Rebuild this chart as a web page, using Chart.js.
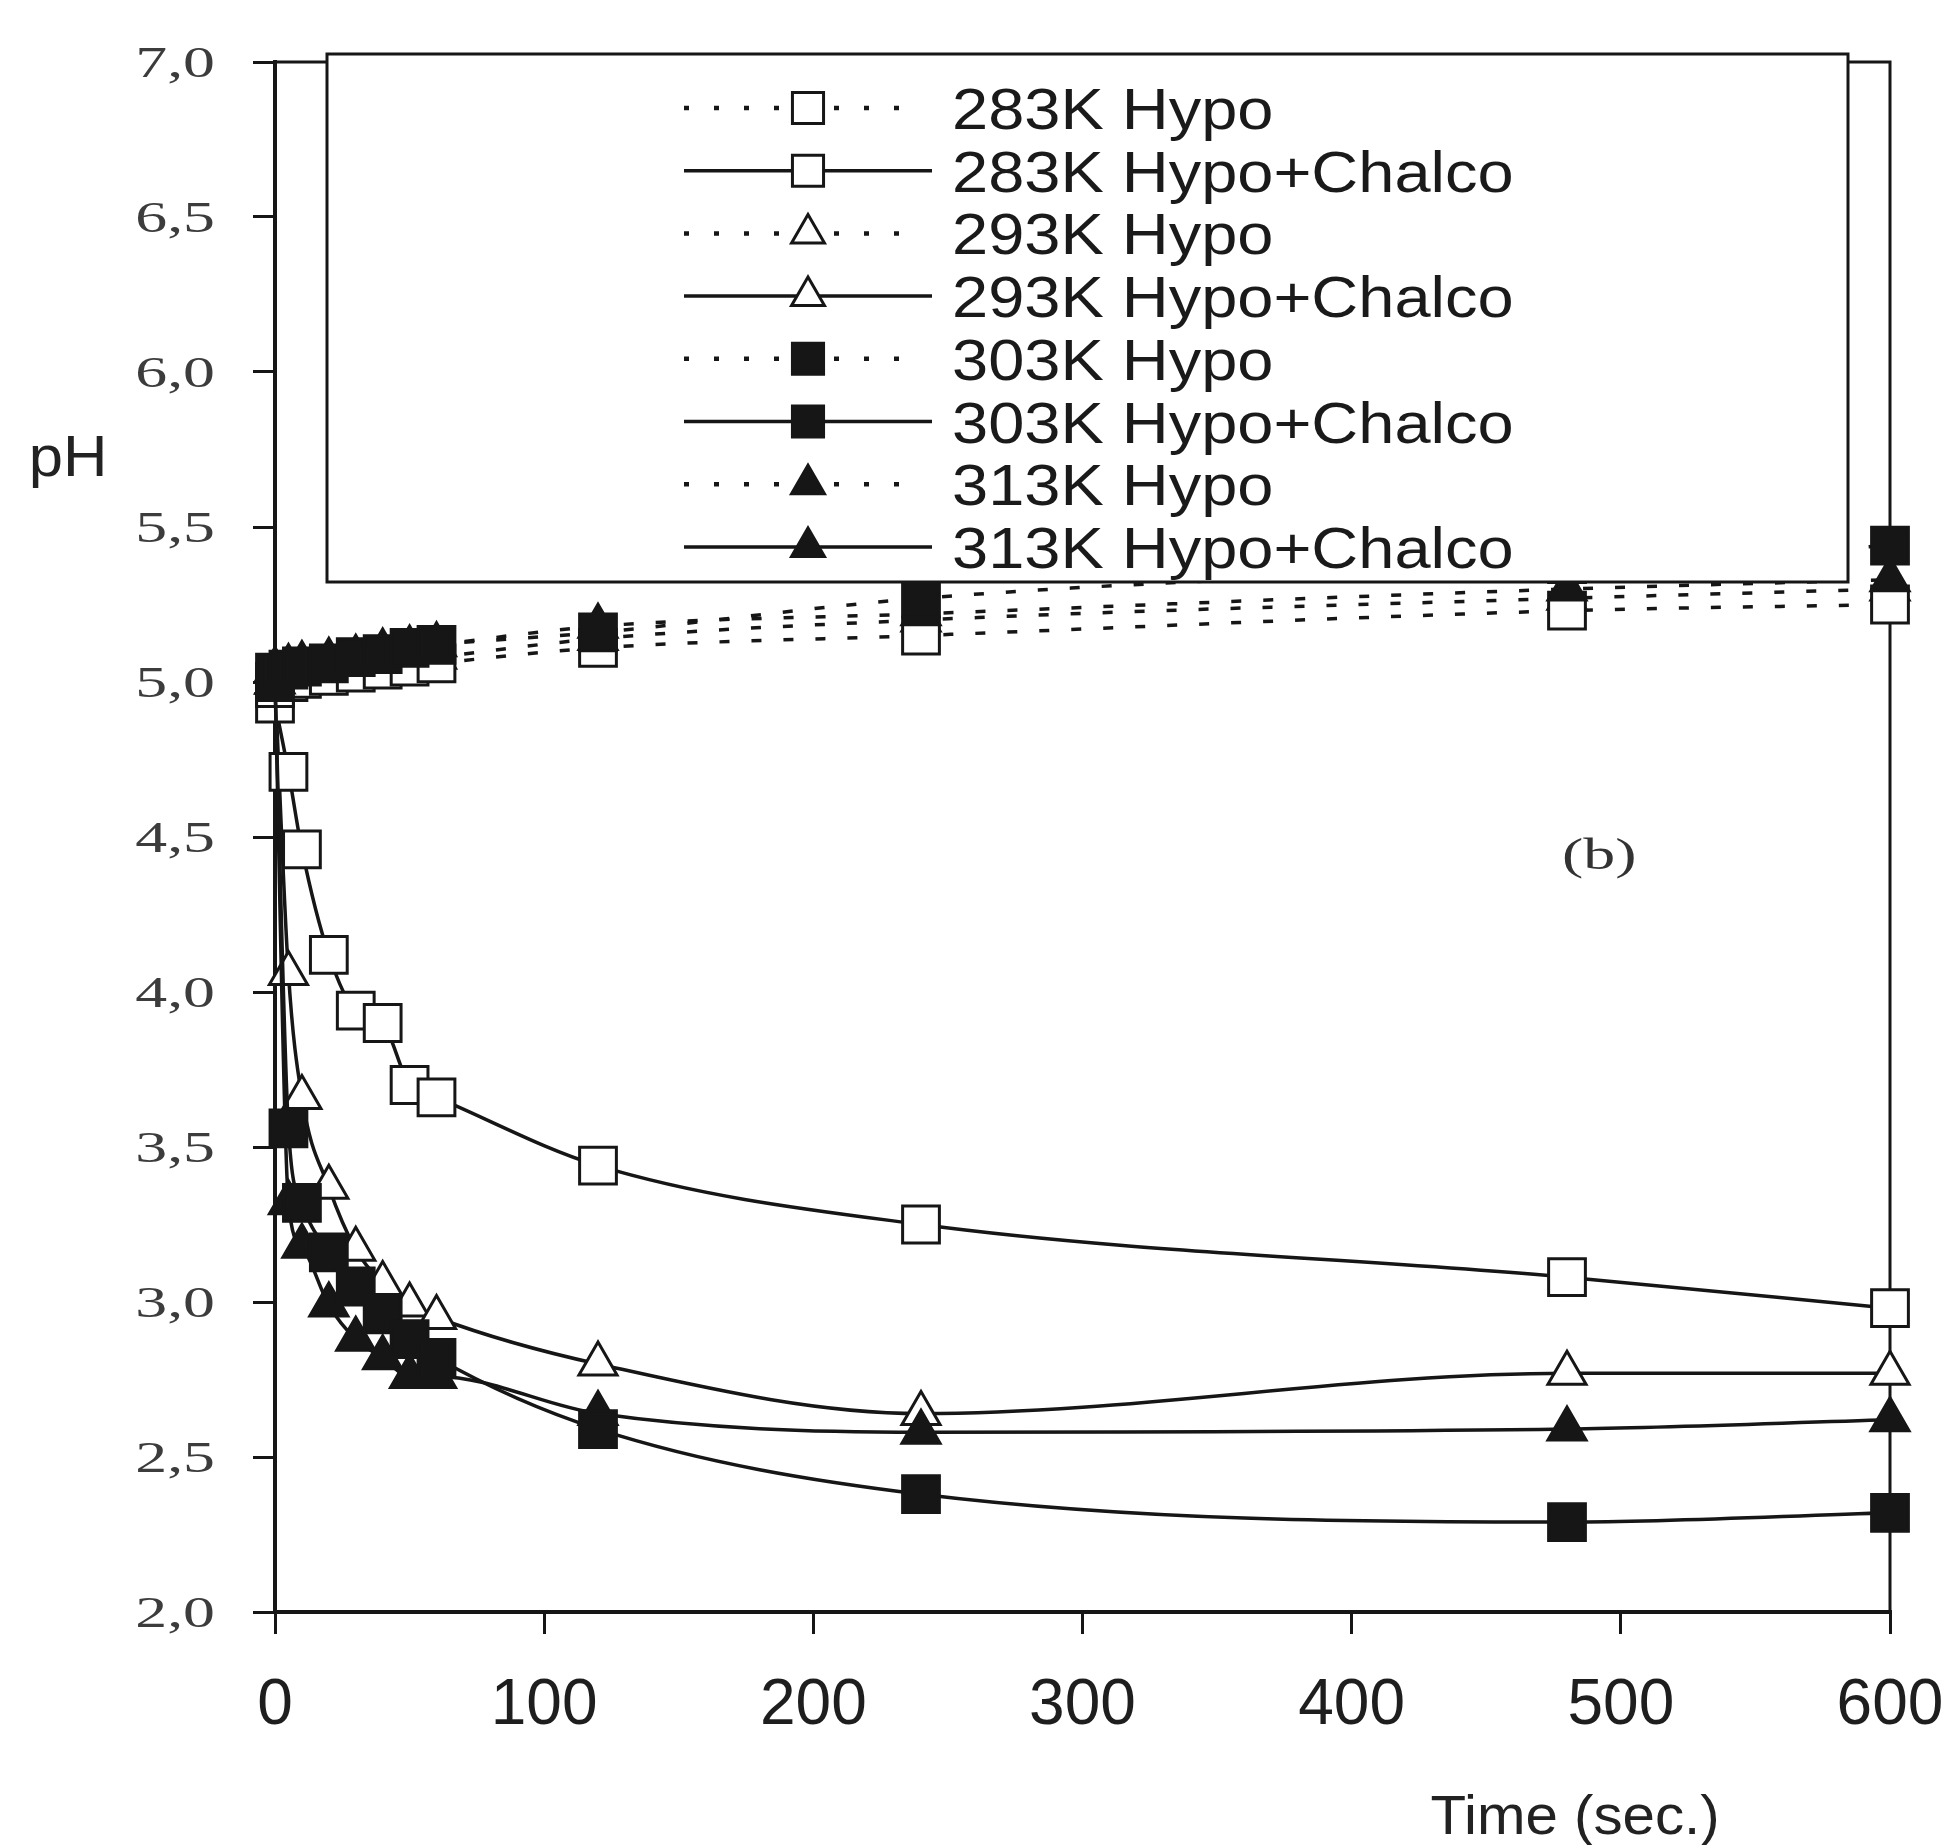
<!DOCTYPE html>
<html>
<head>
<meta charset="utf-8">
<script src="https://cdn.jsdelivr.net/npm/chart.js@4.4.1/dist/chart.umd.min.js"></script>
<style>
  html, body { margin: 0; padding: 0; background: #fff; }
  #wrap { width: 1951px; height: 1845px; }
</style>
</head>
<body>
<div id="wrap"><canvas id="chart" width="1951" height="1845"></canvas></div>
<script>
// sampling times (s), shared by every series
const times = [0, 5, 10, 20, 30, 40, 50, 60, 120, 240, 480, 600];

// pH
const hypo283 = [4.98, 5.00, 5.01, 5.02, 5.03, 5.04, 5.05, 5.06, 5.11, 5.15, 5.23, 5.25];
const chalco283 = [4.93, 4.71, 4.46, 4.12, 3.94, 3.90, 3.70, 3.66, 3.44, 3.25, 3.08, 2.98];
const hypo293 = [5.00, 5.02, 5.03, 5.04, 5.05, 5.06, 5.07, 5.08, 5.14, 5.20, 5.27, 5.30];
const chalco293 = [5.00, 4.06, 3.66, 3.37, 3.17, 3.06, 2.99, 2.95, 2.80, 2.64, 2.77, 2.77];
const hypo303 = [5.03, 5.04, 5.05, 5.06, 5.08, 5.09, 5.11, 5.12, 5.16, 5.27, 5.38, 5.44];
const chalco303 = [5.00, 3.56, 3.32, 3.16, 3.05, 2.96, 2.88, 2.82, 2.59, 2.38, 2.29, 2.32];
const hypo313 = [5.04, 5.05, 5.06, 5.07, 5.08, 5.10, 5.11, 5.12, 5.18, 5.22, 5.30, 5.33];
const chalco313 = [5.00, 3.32, 3.18, 2.99, 2.88, 2.82, 2.76, 2.76, 2.64, 2.58, 2.59, 2.62];

const xTicks = [0, 100, 200, 300, 400, 500, 600];
const yTickValues = [7.0, 6.5, 6.0, 5.5, 5.0, 4.5, 4.0, 3.5, 3.0, 2.5, 2.0];
const yTickLabels = ['7,0', '6,5', '6,0', '5,5', '5,0', '4,5', '4,0', '3,5', '3,0', '2,5', '2,0'];

const ink = '#161616';
const dotted = [10, 22];

function pts(ys) {
  return times.map((t, i) => ({ x: t, y: ys[i] }));
}

function series(label, ys, shape, filled, dashed, order) {
  const r = shape === 'rect' ? 26 : 22;
  return {
    label: label,
    data: pts(ys),
    order: order,
    borderColor: ink,
    borderWidth: 3.5,
    borderDash: dashed ? dotted : [],
    cubicInterpolationMode: 'monotone',
    pointStyle: shape,
    pointRadius: r,
    pointHoverRadius: r,
    pointBackgroundColor: filled ? ink : '#fff',
    pointBorderColor: ink,
    pointBorderWidth: 3,
    clip: false,
    fill: false
  };
}

// legend order follows dataset order; "order" only sets which marks sit on top
const datasets = [
  series('283K Hypo', hypo283, 'rect', false, true, 5),
  series('283K Hypo+Chalco', chalco283, 'rect', false, false, 7),
  series('293K Hypo', hypo293, 'triangle', false, true, 6),
  series('293K Hypo+Chalco', chalco293, 'triangle', false, false, 8),
  series('303K Hypo', hypo303, 'rect', true, true, 1),
  series('303K Hypo+Chalco', chalco303, 'rect', true, false, 3),
  series('313K Hypo', hypo313, 'triangle', true, true, 2),
  series('313K Hypo+Chalco', chalco313, 'triangle', true, false, 4)
];

function drawText(ctx, text, x, y, font, sx, align, color) {
  ctx.save();
  ctx.font = font;
  ctx.fillStyle = color || ink;
  ctx.textAlign = align;
  ctx.textBaseline = 'alphabetic';
  ctx.translate(x, y);
  ctx.scale(sx, 1);
  ctx.fillText(text, 0, 0);
  ctx.restore();
}

const framePlugin = {
  id: 'frame',
  beforeDatasetsDraw(chart) {
    const { ctx, chartArea: a } = chart;
    ctx.save();
    ctx.strokeStyle = ink;
    ctx.lineWidth = 3;
    ctx.strokeRect(a.left, a.top, a.right - a.left, a.bottom - a.top);
    ctx.restore();
  }
};

const textPlugin = {
  id: 'texts',
  afterDraw(chart) {
    const { ctx, chartArea: a } = chart;
    const xs = chart.scales.x, ys = chart.scales.y;
    yTickValues.forEach((v, i) => {
      drawText(ctx, yTickLabels[i], a.left - 60, ys.getPixelForValue(v) + 15,
        '44px "Liberation Serif"', 1.45, 'right', '#3c3c3c');
    });
    drawText(ctx, 'pH', 68, ys.getPixelForValue(5.73) + 20, '57px "Liberation Sans"', 1.08, 'center', '#222');
    drawText(ctx, '(b)', xs.getPixelForValue(492), ys.getPixelForValue(4.45) + 16,
      '44px "Liberation Serif"', 1.45, 'center', '#333');
    drawText(ctx, 'Time (sec.)', xs.getPixelForValue(483), 1834, '56px "Liberation Sans"', 1.04, 'center', '#222');
  }
};

const legendPlugin = {
  id: 'boxLegend',
  afterDatasetsDraw(chart) {
    const { ctx, chartArea: a } = chart;
    const left = a.left + 52, right = a.right - 42, top = a.top - 8, bottom = a.top + 520;
    ctx.save();
    ctx.fillStyle = '#fff';
    ctx.fillRect(left, top, right - left, bottom - top);
    ctx.strokeStyle = ink;
    ctx.lineWidth = 3;
    ctx.strokeRect(left, top, right - left, bottom - top);

    chart.data.datasets.forEach((ds, i) => {
      const y = a.top + 46 + i * 62.7;
      const isDotted = ds.borderDash.length > 0;
      ctx.save();
      ctx.strokeStyle = ink;
      ctx.lineWidth = isDotted ? 4.5 : 3.5;
      ctx.setLineDash(isDotted ? [5, 25] : []);
      ctx.beginPath();
      ctx.moveTo(left + 357, y);
      ctx.lineTo(left + (isDotted ? 590 : 605), y);
      ctx.stroke();
      ctx.setLineDash([]);
      ctx.fillStyle = ds.pointBackgroundColor;
      ctx.strokeStyle = ink;
      ctx.lineWidth = 3;
      Chart.helpers.drawPoint(ctx, {
        pointStyle: ds.pointStyle,
        radius: ds.pointStyle === 'rect' ? 22 : 19,
        rotation: 0,
        borderWidth: 3
      }, left + 481, y);
      ctx.restore();
      drawText(ctx, ds.label, left + 625, y + 21, '58px "Liberation Sans"', 1.12, 'left', '#1a1a1a');
    });
    ctx.restore();
  }
};

new Chart(document.getElementById('chart'), {
  type: 'line',
  data: { datasets: datasets },
  options: {
    responsive: false,
    animation: false,
    events: [],
    layout: { padding: { top: 62, right: 61, left: 0, bottom: 0 } },
    plugins: { legend: { display: false }, tooltip: { enabled: false } },
    scales: {
      x: {
        type: 'linear',
        min: 0,
        max: 600,
        afterBuildTicks: s => { s.ticks = xTicks.map(v => ({ value: v })); },
        afterFit: s => { s.height = 233; s.paddingLeft = 0; s.paddingRight = 0; },
        grid: { drawOnChartArea: false, drawTicks: true, tickLength: 22, color: ink, lineWidth: 3 },
        border: { display: true, color: ink, width: 4 },
        ticks: {
          font: { family: 'Liberation Sans', size: 64 },
          color: '#1e1e1e',
          padding: 34,
          maxRotation: 0,
          autoSkip: false
        }
      },
      y: {
        type: 'linear',
        min: 2,
        max: 7,
        afterBuildTicks: s => { s.ticks = yTickValues.map(v => ({ value: v })); },
        afterFit: s => { s.width = 275; s.paddingTop = 0; s.paddingBottom = 0; },
        grid: { drawOnChartArea: false, drawTicks: true, tickLength: 22, color: ink, lineWidth: 3 },
        border: { display: true, color: ink, width: 4 },
        ticks: { display: false }
      }
    }
  },
  plugins: [framePlugin, legendPlugin, textPlugin]
});
</script>
</body>
</html>
